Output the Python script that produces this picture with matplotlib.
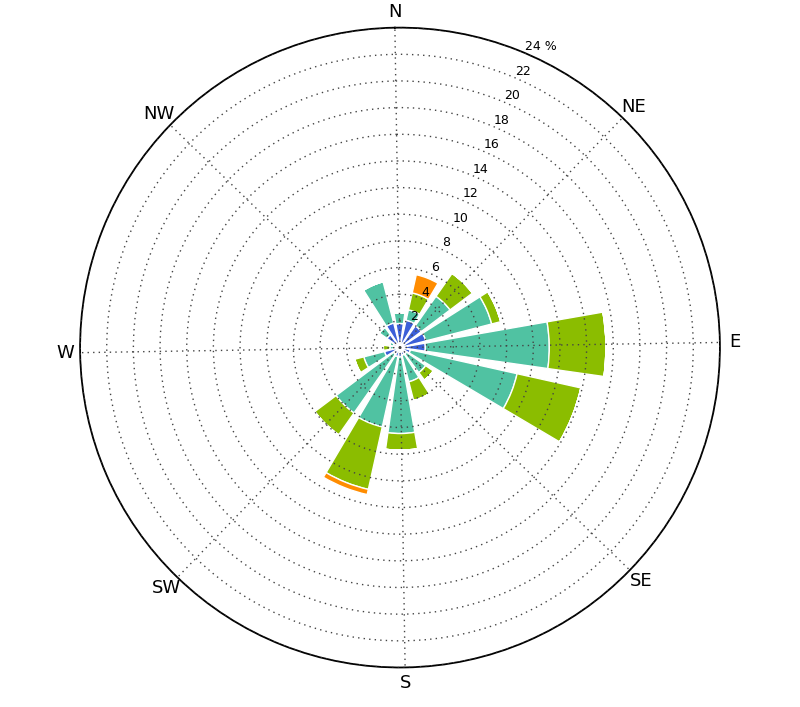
import numpy as np
import matplotlib
matplotlib.use("Agg")
import matplotlib.pyplot as plt

directions = ["N", "NNE", "NE", "ENE", "E", "ESE", "SE", "SSE",
              "S", "SSW", "SW", "WSW", "W", "WNW", "NW", "NNW"]
blue   = [1.8, 2.1, 2.0, 2.0, 1.9, 0.8, 0.6, 0.6, 0.7, 0.7, 0.6, 1.2, 0.4, 0.5, 1.2, 1.9]
teal   = [0.8, 0.8, 2.7, 5.1, 9.3, 8.2, 1.75, 2.05, 5.75, 5.4, 5.4, 1.6, 0.35, 0.3, 0.7, 3.2]
green  = [0.0, 1.3, 2.1, 0.7, 4.25, 4.9, 0.7, 1.45, 1.25, 4.8, 2.0, 0.7, 0.5, 0.0, 0.0, 0.0]
orange = [0.0, 1.4, 0.0, 0.0, 0.0, 0.0, 0.0, 0.0, 0.0, 0.4, 0.0, 0.0, 0.0, 0.0, 0.0, 0.0]
series = [blue, teal, green, orange]
colors = ["#3b5fd8", "#50c2a2", "#8bbd00", "#ff8c00"]

compass_labels = ["N", "NE", "E", "SE", "S", "SW", "W", "NW"]
r_ticks = [2, 4, 6, 8, 10, 12, 14, 16, 18, 20, 22, 24]
r_labels = ["2", "4", "6", "8", "10", "12", "14", "16", "18", "20", "22", "24 %"]

fig = plt.figure(figsize=(8.0, 7.07), dpi=100)
ax = fig.add_axes([0.1, 0.0559, 0.8, 0.905], projection="polar")
ax.set_theta_direction(-1)
ax.set_theta_offset(np.pi / 2 + 0.016)

theta = np.deg2rad(np.arange(len(directions)) * 22.5)
width = np.deg2rad(22.5 * 0.8)
bottom = np.zeros(len(directions))
for vals, c in zip(series, colors):
    v = np.array(vals)
    ax.bar(theta, v, width=width, bottom=bottom, color=c, edgecolor="white",
           linewidth=1.0, zorder=2)
    bottom += v

ax.set_ylim(0, 24)
ax.set_thetagrids(np.arange(0, 360, 45), compass_labels, fontsize=13)
ax.tick_params(axis="x", pad=0.5)
ax.set_rgrids(r_ticks, r_labels, angle=24, fontsize=9)
ax.grid(True, linestyle=(0, (1, 3)), color="#444444", linewidth=1.0, zorder=3)
ax.set_axisbelow(False)
ax.spines["polar"].set_linewidth(1.3)
ax.spines["polar"].set_color("black")

fig.savefig("out.png", dpi=100)
